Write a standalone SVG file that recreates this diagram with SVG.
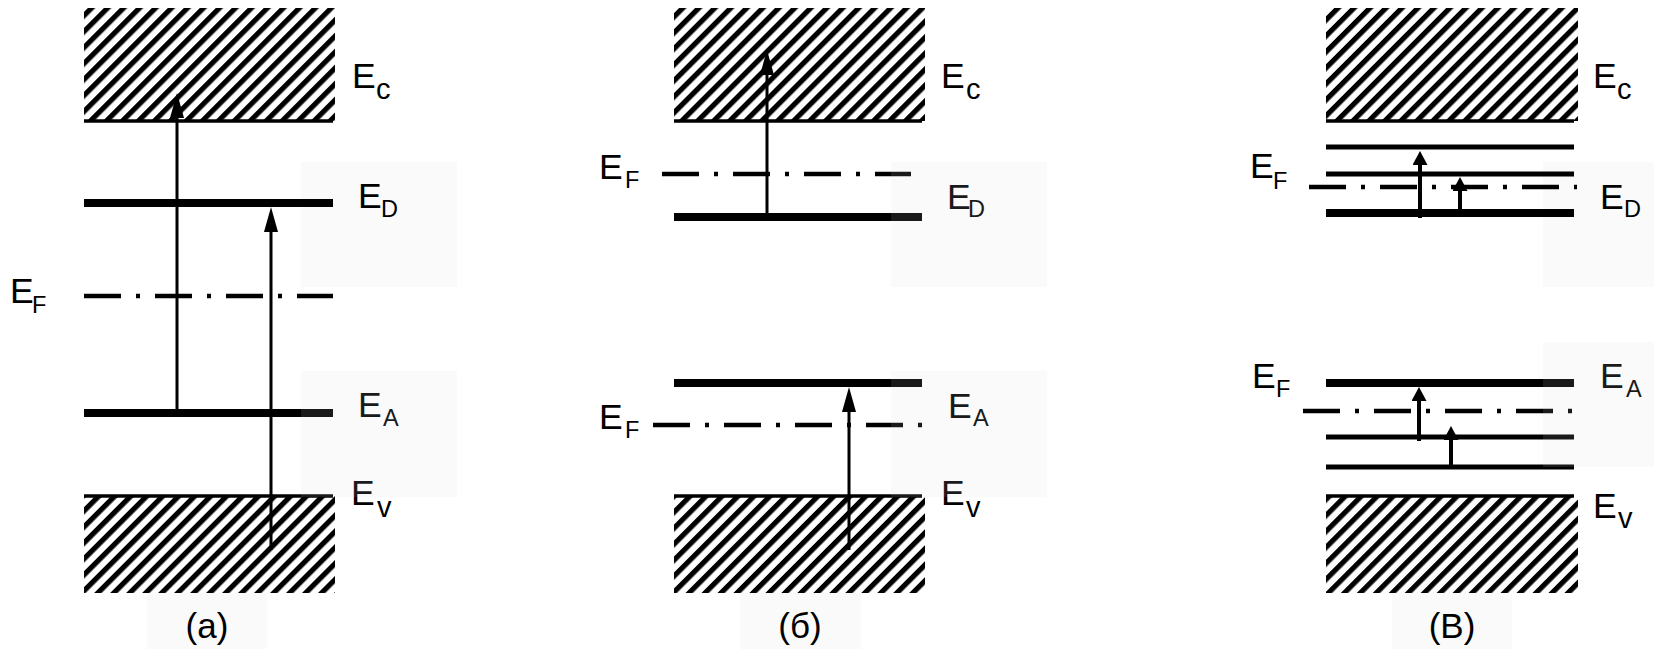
<svg xmlns="http://www.w3.org/2000/svg" width="1654" height="649" viewBox="0 0 1654 649">
<style>
.band{fill:url(#hatch)}
.edge{stroke:#000;stroke-width:3.5}
.lvl{stroke:#000;stroke-width:8}
.lvl2{stroke:#000;stroke-width:5}
.fermi{stroke:#000;stroke-width:4.5;stroke-dasharray:37 15 4 15}
.arr{stroke:#000;stroke-width:3;marker-end:url(#ah)}
.arr2{stroke:#000;stroke-width:4;marker-end:url(#ah2)}
.lbl{font-family:"Liberation Sans",Arial,sans-serif;font-size:35.5px;fill:#000}
.sub{font-size:23.5px}
.subl{font-size:29px}
.cap{font-family:"Liberation Sans",Arial,sans-serif;font-size:35px;fill:#000}
.shade{fill:#d8d8d8;fill-opacity:0.12}
.bg{fill:#fafafa}
</style>
<defs>
<pattern id="hatch" patternUnits="userSpaceOnUse" width="11.3" height="11.3" patternTransform="rotate(45)">
<rect x="0" y="0" width="11.3" height="11.3" fill="#fff"/>
<rect x="0" y="0" width="5.2" height="11.3" fill="#000"/>
</pattern>
<marker id="ah" markerUnits="userSpaceOnUse" markerWidth="25" markerHeight="14" refX="15" refY="7" orient="auto">
<path d="M0,0 L25,7 L0,14 z" fill="#000"/>
</marker>
<marker id="ah2" markerUnits="userSpaceOnUse" markerWidth="14" markerHeight="15" refX="8" refY="7.5" orient="auto">
<path d="M0,0 L14,7.5 L0,15 z" fill="#000"/>
</marker>
</defs>
<rect width="1654" height="649" fill="#fff"/>

<!-- faint background panels (under) -->
<rect class="bg" x="301" y="162" width="156" height="125"/>
<rect class="bg" x="1543" y="162" width="111" height="125"/>
<rect class="bg" x="147" y="593" width="120" height="56"/>
<rect class="bg" x="740" y="593" width="121" height="56"/>
<rect class="bg" x="1392" y="593" width="120" height="56"/>

<!-- Panel a -->
<g id="panel-a">
<g id="a-conduction"><rect class="band" x="84" y="8" width="251" height="113"/><line class="edge" x1="84" y1="121" x2="333" y2="121"/>
<text class="lbl" x="352" y="88">E<tspan class="subl" x="376" y="99">c</tspan></text></g>
<g id="a-donor"><line class="lvl" x1="84" y1="203" x2="333" y2="203"/>
<text class="lbl" x="358" y="208">E<tspan class="sub" x="381" y="217">D</tspan></text></g>
<g id="a-fermi"><line class="fermi" x1="84" y1="296" x2="333" y2="296"/>
<text class="lbl" x="10" y="303">E<tspan class="sub" x="32" y="313">F</tspan></text></g>
<g id="a-acceptor"><line class="lvl" x1="84" y1="413" x2="333" y2="413"/>
<text class="lbl" x="358" y="417">E<tspan class="sub" x="383" y="426">A</tspan></text></g>
<g id="a-valence"><rect class="band" x="84" y="496" width="251" height="97"/><line class="edge" x1="84" y1="496" x2="333" y2="496"/>
<text class="lbl" x="351" y="505">E<tspan class="subl" x="377" y="517">v</tspan></text></g>
<g id="a-caption"><text class="cap" x="207" y="638" text-anchor="middle">(а)</text></g>
</g>

<!-- Panel b -->
<g id="panel-b">
<g id="b-conduction"><rect class="band" x="674" y="8" width="251" height="113"/><line class="edge" x1="674" y1="121" x2="922" y2="121"/>
<text class="lbl" x="941" y="88">E<tspan class="subl" x="966" y="99">c</tspan></text></g>
<g id="b-fermi-top"><line class="fermi" x1="662" y1="174" x2="911" y2="174"/>
<text class="lbl" x="599" y="179">E<tspan class="sub" x="625" y="188">F</tspan></text></g>
<g id="b-donor"><line class="lvl" x1="674" y1="217" x2="922" y2="217"/>
<text class="lbl" x="947" y="209">E<tspan class="sub" x="968" y="217">D</tspan></text></g>
<g id="b-acceptor"><line class="lvl" x1="674" y1="383" x2="922" y2="383"/>
<text class="lbl" x="948" y="418">E<tspan class="sub" x="973" y="426">A</tspan></text></g>
<g id="b-fermi-bottom"><line class="fermi" x1="653" y1="425" x2="922" y2="425"/>
<text class="lbl" x="599" y="429">E<tspan class="sub" x="625" y="438">F</tspan></text></g>
<g id="b-valence"><rect class="band" x="674" y="496" width="251" height="97"/><line class="edge" x1="674" y1="496" x2="922" y2="496"/>
<text class="lbl" x="941" y="505">E<tspan class="subl" x="966" y="517">v</tspan></text></g>
<g id="b-caption"><text class="cap" x="800" y="638" text-anchor="middle">(б)</text></g>
</g>

<!-- Panel c -->
<g id="panel-c">
<g id="c-conduction"><rect class="band" x="1326" y="8" width="252" height="113"/><line class="edge" x1="1326" y1="121" x2="1574" y2="121"/>
<text class="lbl" x="1593" y="88">E<tspan class="subl" x="1617" y="99">c</tspan></text></g>
<g id="c-donor-band"><line class="lvl2" x1="1326" y1="147" x2="1574" y2="147"/><line class="lvl2" x1="1326" y1="174" x2="1574" y2="174"/></g>
<g id="c-fermi-top"><line class="fermi" x1="1309" y1="187" x2="1577" y2="187"/>
<text class="lbl" x="1250" y="178">E<tspan class="sub" x="1273" y="189">F</tspan></text></g>
<g id="c-donor"><line class="lvl" x1="1326" y1="213" x2="1574" y2="213"/>
<text class="lbl" x="1600" y="209">E<tspan class="sub" x="1624" y="217">D</tspan></text></g>
<g id="c-acceptor"><line class="lvl" x1="1326" y1="383" x2="1574" y2="383"/>
<text class="lbl" x="1600" y="388">E<tspan class="sub" x="1626" y="397">A</tspan></text></g>
<g id="c-fermi-bottom"><line class="fermi" x1="1303" y1="411" x2="1572" y2="411"/>
<text class="lbl" x="1252" y="388">E<tspan class="sub" x="1276" y="397">F</tspan></text></g>
<g id="c-acceptor-band"><line class="lvl2" x1="1326" y1="437" x2="1574" y2="437"/><line class="lvl2" x1="1326" y1="467" x2="1574" y2="467"/></g>
<g id="c-valence"><rect class="band" x="1326" y="496" width="252" height="97"/><line class="edge" x1="1326" y1="496" x2="1574" y2="496"/>
<text class="lbl" x="1593" y="518">E<tspan class="subl" x="1618" y="528">v</tspan></text></g>
<g id="c-caption"><text class="cap" x="1452" y="638" text-anchor="middle">(В)</text></g>
</g>

<!-- Connectors -->
<g id="connectors">
<line class="arr" x1="177" y1="413" x2="177" y2="103"/>
<line class="arr" x1="271" y1="550" x2="271" y2="217"/>
<line class="arr" x1="767" y1="213" x2="767" y2="60"/>
<line class="arr" x1="849" y1="550" x2="849" y2="397"/>
<line class="arr2" x1="1420" y1="218" x2="1420" y2="157"/>
<line class="arr2" x1="1460" y1="213" x2="1460" y2="183"/>
<line class="arr2" x1="1419" y1="441" x2="1419" y2="393"/>
<line class="arr2" x1="1451" y1="467" x2="1451" y2="432"/>
</g>

<!-- faint overlay panels (over) -->
<rect class="shade" x="301" y="371" width="156" height="126"/>
<rect class="shade" x="891" y="162" width="156" height="125"/>
<rect class="shade" x="891" y="371" width="156" height="126"/>
<rect class="shade" x="1543" y="342" width="111" height="125"/>
</svg>
